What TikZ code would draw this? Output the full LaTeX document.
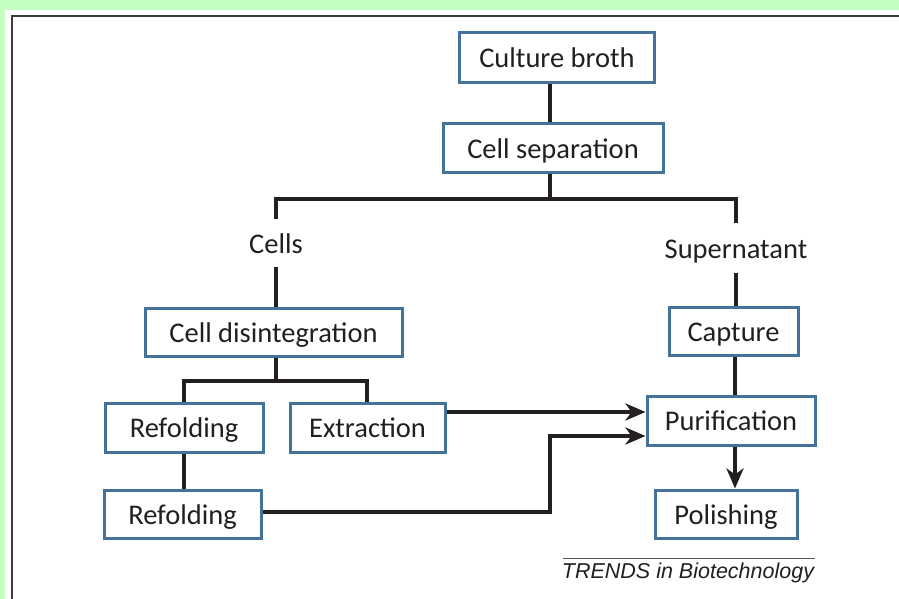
\documentclass[tikz,border=0pt]{standalone}
\usepackage{fontspec}
\setmainfont{Carlito}
\newfontfamily\trendsfont{Liberation Sans}
\usetikzlibrary{arrows.meta}
\definecolor{bggreen}{HTML}{C3FFC0}
\definecolor{boxblue}{HTML}{44729B}
\definecolor{ink}{HTML}{231F20}
\definecolor{frame}{HTML}{3C3C3C}
\tikzset{
  procbox/.style={draw=boxblue, line width=3pt, fill=white, inner sep=0pt,
    text=ink, font=\fontsize{28.5}{30}\selectfont, text height=22pt, text depth=2pt},
  branchlabel/.style={inner sep=0pt, text=ink, font=\fontsize{28.5}{30}\selectfont,
    text height=22pt, text depth=1pt},
  conn/.style={draw=ink, line width=3.5pt},
  arr/.style={conn, -{Stealth[length=20pt, width=17pt, inset=6pt]}}
}
\begin{document}
\begin{tikzpicture}[x=1pt, y=-1pt]
\useasboundingbox (0,0) rectangle (899,599);
\fill[bggreen] (0,0) rectangle (899,599);
\fill[white] (5,10) rectangle (899,599);
\draw[frame, line width=2.5pt] (12,599) -- (12,16) -- (899,16);

% boxes
\node[procbox, minimum width=195pt, minimum height=50pt] (cb) at (557,58) {Culture broth};
\node[procbox, minimum width=220pt, minimum height=48pt] (cs) at (553,148) {Cell separation};
\node[branchlabel, minimum height=48pt] (cells) at (276,243) {Cells};
\node[branchlabel, minimum height=50pt] (sup) at (736,248) {Supernatant};
\node[procbox, minimum width=257pt, minimum height=48pt] (cd) at (273.5,332) {Cell disintegration};
\node[procbox, minimum width=158pt, minimum height=49pt] (ref1) at (184,427.5) {Refolding};
\node[procbox, minimum width=155pt, minimum height=49pt] (ext) at (367.5,427.5) {Extraction};
\node[procbox, minimum width=157pt, minimum height=48pt] (ref2) at (182.5,514) {Refolding};
\node[procbox, minimum width=129pt, minimum height=48pt] (cap) at (733.5,331) {Capture};
\node[procbox, minimum width=168pt, minimum height=49pt] (pur) at (731,420.5) {Purification};
\node[procbox, minimum width=142pt, minimum height=48pt] (pol) at (726,514) {Polishing};

% junctions
\coordinate (j1) at (550,199);
\coordinate (jl) at (276,199);
\coordinate (jr) at (736,199);
\coordinate (j2) at (276,381);
\coordinate (j2l) at (184,381);
\coordinate (j2r) at (367,381);
\coordinate (j3) at (550,512);

% connectors
\draw[conn] (cb.south -| j1) -- (cs.north -| j1);
\draw[conn] (cs.south -| j1) -- (j1);
\draw[conn] (cells.north -| jl) -- (jl) -- (jr) -- (sup.north -| jr);
\draw[conn] (cells.south -| jl) -- (cd.north -| jl);
\draw[conn] (cd.south -| j2) -- (j2);
\draw[conn] (ref1.north -| j2l) -- (j2l) -- (j2r) -- (ext.north -| j2r);
\draw[conn] (ref1.south -| j2l) -- (ref2.north -| j2l);
\draw[conn] (sup.south -| jr) -- (cap.north -| jr);
\draw[conn] (cap.south -| 735,0) -- (pur.north -| 735,0);
\draw[arr] (ext.east |- 0,412) -- (pur.west |- 0,412);
\draw[arr] (ref2.east |- j3) -- (j3) -- (j3 |- 0,436) -- (pur.west |- 0,436);
\draw[arr] (pur.south -| 735,0) -- (pol.north -| 735,0);

% caption
\coordinate (rl) at (563,558);
\coordinate (rr) at (815,558);
\draw[gray!70!black, line width=1pt] (rl) -- (rr);
\node[inner sep=0pt, text=ink, font=\trendsfont\itshape\fontsize{21.5}{23}\selectfont] (trends) at (688,573) {TRENDS in Biotechnology};
\end{tikzpicture}
\end{document}
